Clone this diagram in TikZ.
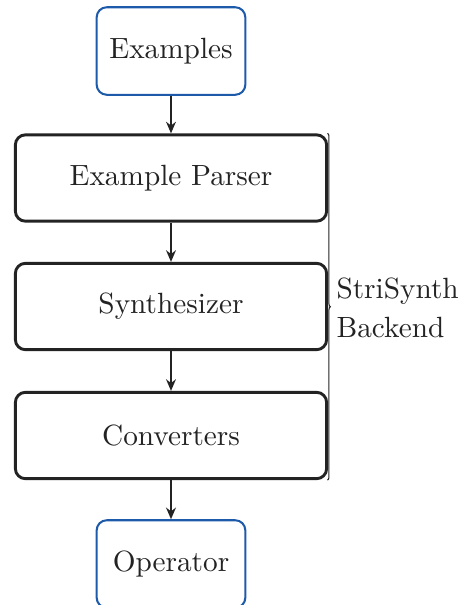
\documentclass[tikz,border=0pt]{standalone}
\usetikzlibrary{arrows.meta,decorations.pathreplacing}
\definecolor{boxblue}{RGB}{30,90,170}
\definecolor{ink}{RGB}{35,35,35}
\begin{document}
\begin{tikzpicture}[x=0.345pt,y=-0.345pt,
  every node/.style={text=ink,font={\fontsize{10.1}{13.5}\selectfont}},
  io/.style={draw=boxblue,line width=0.7pt,rounded corners=3.5pt,
    minimum width=51.3pt,minimum height=30.2pt,inner sep=0pt},
  stage/.style={draw=ink,line width=1pt,rounded corners=3.5pt,
    minimum width=107.4pt,minimum height=29.8pt,inner sep=0pt},
  flow/.style={draw=ink,line width=0.75pt,-{Stealth[length=4pt,width=3.4pt]}}]
\useasboundingbox (0,0) rectangle (459,605);
\node[io]    (ex)   at (171,51)    {Examples};
\node[stage] (pars) at (171,178)   {Example Parser};
\node[stage] (syn)  at (171,306.5) {Synthesizer};
\node[stage] (conv) at (171,435.5) {Converters};
\node[io]    (op)   at (171,564)   {Operator};
\draw[flow] (ex.south)   -- (pars.north);
\draw[flow] (pars.south) -- (syn.north);
\draw[flow] (syn.south)  -- (conv.north);
\draw[flow] (conv.south) -- (op.north);
\coordinate (btop) at ([xshift=-0.2pt]pars.north east);
\coordinate (bbot) at ([xshift=-0.2pt]conv.south east);
\draw[ink,line width=0.35pt,decorate,decoration={brace,amplitude=1pt}]
  (btop) -- (bbot);
\node[anchor=west,align=left,inner sep=0pt]
  (lbl) at (336,308) {StriSynth\\Backend};
\end{tikzpicture}
\end{document}
